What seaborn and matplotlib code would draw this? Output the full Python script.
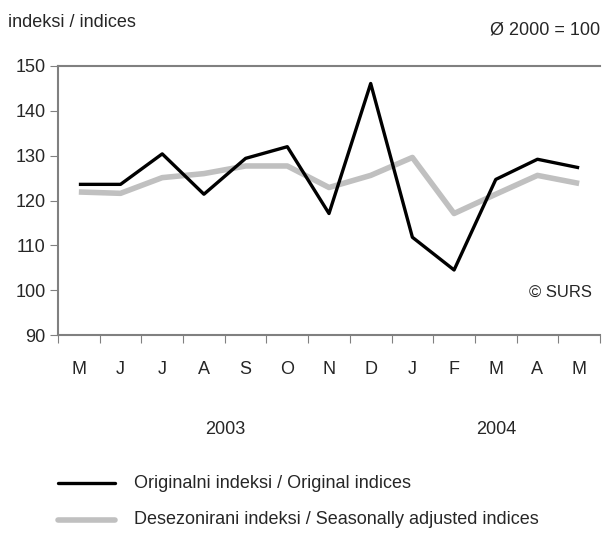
import matplotlib
matplotlib.use("Agg")
import matplotlib.pyplot as plt
import seaborn as sns
import pandas as pd
import numpy as np

months = ["M", "J", "J", "A", "S", "O", "N", "D", "J", "F", "M", "A", "M"]
original = [123.6, 123.6, 130.4, 121.4, 129.4, 132.0, 117.1, 146.1, 111.8, 104.5, 124.7, 129.2, 127.3]
adjusted = [121.9, 121.6, 125.1, 126.0, 127.7, 127.7, 122.9, 125.6, 129.6, 117.1, 121.4, 125.6, 123.8]
years = ["2003", "2004"]
year_pos = [3.5, 10.0]

sns.set_style("white")
plt.rcParams["font.family"] = ["Liberation Sans Narrow", "Liberation Sans", "DejaVu Sans"]
plt.rcParams["font.size"] = 13

df = pd.DataFrame({"pos": np.arange(len(months)), "orig": original, "adj": adjusted})

fig = plt.figure(figsize=(6.05, 5.33), dpi=100)
ax = fig.add_axes([58 / 605, 1 - 335 / 533, 542 / 605, 269 / 533])

sns.lineplot(data=df, x="pos", y="adj", ax=ax, color="#c0c0c0", linewidth=4, solid_capstyle="butt")
sns.lineplot(data=df, x="pos", y="orig", ax=ax, color="black", linewidth=2.4, solid_capstyle="butt")

ax.set_xlim(-0.5, len(months) - 0.5)
ax.set_ylim(90, 150)
ax.set_yticks(range(90, 151, 10))
ax.set_xticks(np.arange(-0.5, len(months), 1.0))
ax.set_xticklabels([])
ax.set_xticks(np.arange(len(months)), minor=True)
ax.set_xticklabels(months, minor=True)
ax.tick_params(axis="x", which="major", length=6, color="#808080", direction="out", bottom=True)
ax.tick_params(axis="x", which="minor", length=0, pad=19, labelsize=13)
ax.tick_params(axis="y", length=6, color="#808080", direction="out", left=True, labelsize=13, pad=3)
ax.set_xlabel("")
ax.set_ylabel("")

for side in ["left", "bottom", "top"]:
    ax.spines[side].set_color("#808080")
    ax.spines[side].set_linewidth(1.5)
ax.spines["right"].set_visible(False)

for yr, p in zip(years, year_pos):
    ax.text(p, -0.35, yr, transform=ax.get_xaxis_transform(), ha="center", va="center", fontsize=13)

ax.text(0.985, 0.16, "© SURS", transform=ax.transAxes, ha="right", va="center", fontsize=12)

fig.text(8 / 605, 1 - 22 / 533, "indeksi / indices", ha="left", va="center", fontsize=13)
fig.text(600 / 605, 1 - 30 / 533, "Ø 2000 = 100", ha="right", va="center", fontsize=13)

# legend drawn by hand below the axes
fig.add_artist(plt.Line2D([58 / 605, 115 / 605], [1 - 483 / 533] * 2, color="black", linewidth=2.4, transform=fig.transFigure))
fig.add_artist(plt.Line2D([58 / 605, 115 / 605], [1 - 520 / 533] * 2, color="#c0c0c0", linewidth=4, transform=fig.transFigure))
fig.text(134 / 605, 1 - 483 / 533, "Originalni indeksi / Original indices", ha="left", va="center", fontsize=13)
fig.text(134 / 605, 1 - 520 / 533, "Desezonirani indeksi / Seasonally adjusted indices", ha="left", va="center", fontsize=13)

fig.savefig("out.png", dpi=100)
